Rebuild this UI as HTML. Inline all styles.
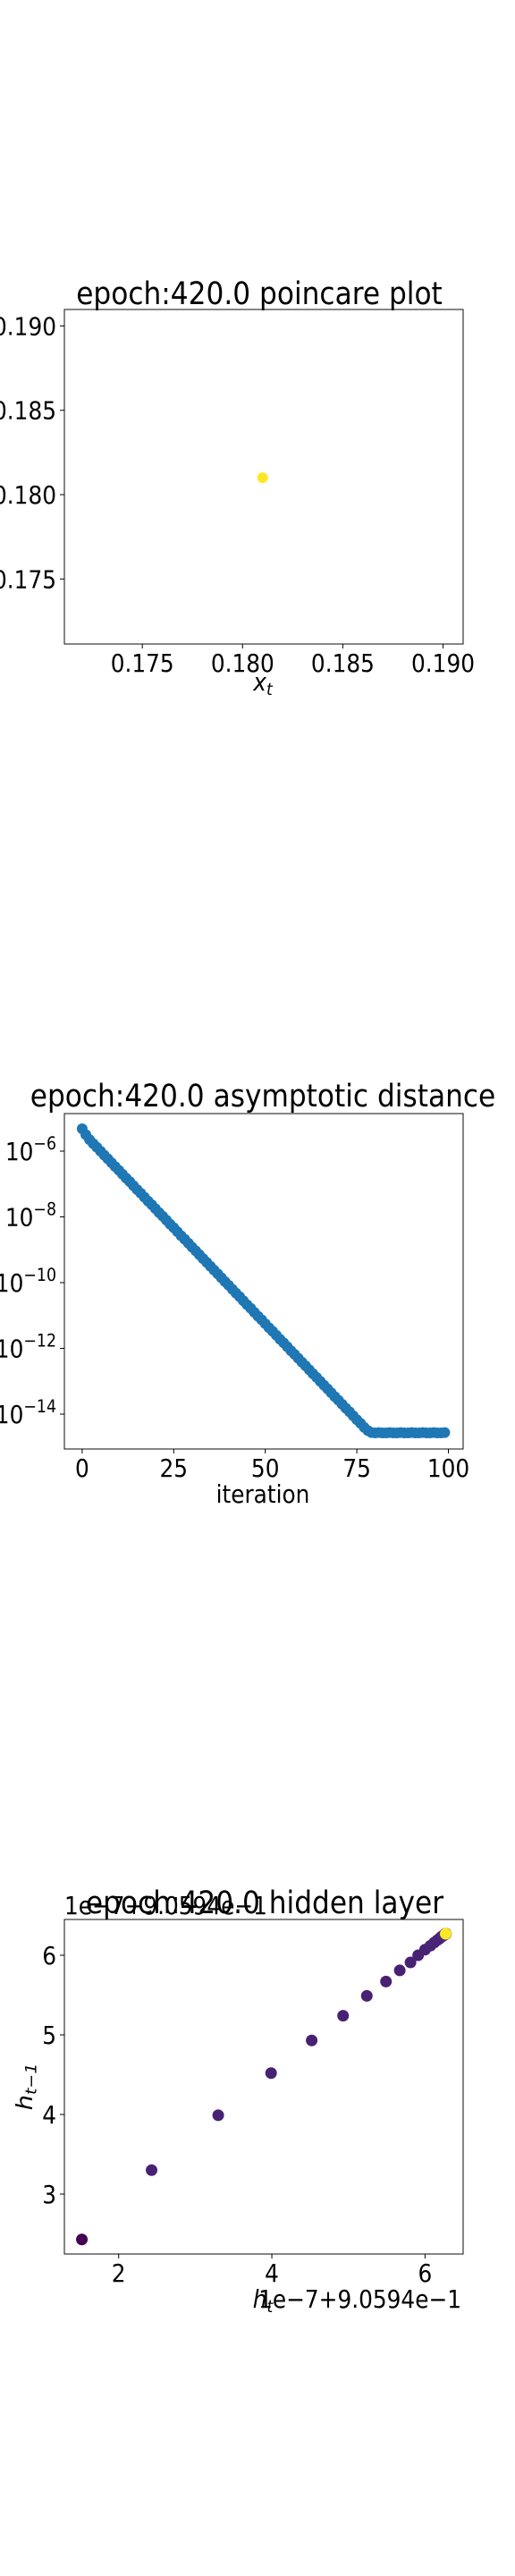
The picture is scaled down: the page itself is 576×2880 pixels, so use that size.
<!DOCTYPE html>
<html><head><meta charset="utf-8"><style>
html,body{margin:0;padding:0;background:#fff;}
svg{display:block;font-family:"DejaVu Sans","Liberation Sans",sans-serif;}
</style></head><body>
<svg id="fig" width="576" height="2880" viewBox="0 0 576 2880" xmlns="http://www.w3.org/2000/svg">
<rect width="576" height="2880" fill="#fff"/>
<g id="c1"></g>
<g id="c2"></g>
<g id="c3"></g>
</svg>
<script>
// ---- chart 1 data ----
const c1Xticks = [0.175, 0.180, 0.185, 0.190];
const c1Yticks = [0.175, 0.180, 0.185, 0.190];
const c1TickLabels = ["0.175", "0.180", "0.185", "0.190"];
const c1PointX = [0.181];
const c1PointY = [0.181];
// ---- chart 2 data ----
const c2Xticks = [0, 25, 50, 75, 100];
const c2Yexps = [-6, -8, -10, -12, -14];
const c2LogValues = [
-5.32,-5.50,-5.65,-5.77,-5.88,-6.00,-6.12,-6.23,-6.35,-6.47,
-6.58,-6.70,-6.82,-6.93,-7.05,-7.17,-7.28,-7.40,-7.52,-7.63,
-7.75,-7.87,-7.98,-8.10,-8.22,-8.33,-8.45,-8.57,-8.68,-8.80,
-8.92,-9.03,-9.15,-9.27,-9.38,-9.50,-9.62,-9.73,-9.85,-9.97,
-10.08,-10.20,-10.32,-10.43,-10.55,-10.67,-10.78,-10.90,-11.02,-11.13,
-11.25,-11.37,-11.48,-11.60,-11.72,-11.83,-11.95,-12.07,-12.18,-12.30,
-12.42,-12.53,-12.65,-12.77,-12.88,-13.00,-13.12,-13.23,-13.35,-13.47,
-13.58,-13.70,-13.82,-13.93,-14.05,-14.17,-14.28,-14.40,-14.50,-14.56,
-14.57,-14.56,-14.57,-14.57,-14.56,-14.57,-14.57,-14.56,-14.57,-14.57,
-14.56,-14.57,-14.57,-14.56,-14.57,-14.57,-14.56,-14.57,-14.57,-14.56];
// ---- chart 3 data ----
const c3Ticks = [2, 4, 6];
const c3YTicks = [3, 4, 5, 6];
const c3H = [1.52,2.43,3.30,3.99,4.52,4.93,5.24,5.49,5.67,5.81,5.91,6.00,6.07,6.12,6.16,6.19,6.21,6.23,6.24,6.25,
6.255,6.26,6.262,6.264,6.266,6.267,6.268,6.269,6.27,6.27,6.27,6.27,6.27,6.27,6.27,6.27,6.27,6.27,6.27,6.27,
6.27,6.27,6.27,6.27,6.27,6.27,6.27,6.27,6.27,6.27,6.27,6.27,6.27,6.27,6.27,6.27,6.27,6.27,6.27,6.27,
6.27,6.27,6.27,6.27,6.27,6.27,6.27,6.27,6.27,6.27,6.27,6.27,6.27,6.27,6.27,6.27,6.27,6.27,6.27,6.27,
6.27,6.27,6.27,6.27,6.27,6.27,6.27,6.27,6.27,6.27,6.27,6.27,6.27,6.27,6.27,6.27,6.27,6.27,6.27,6.27,6.27];

const NS = "http://www.w3.org/2000/svg";
const SX = 0.905;
const TICK_FS = 27.4, TITLE_FS = 34.5, SUP_FS = 19.2;
function mk(parent, tag, attrs, txt){
  const e = document.createElementNS(NS, tag);
  for (const k in attrs) e.setAttribute(k, attrs[k]);
  if (txt !== undefined) e.textContent = txt;
  parent.appendChild(e);
  return e;
}
function txt(g, x, y, fs, anchor, s, extra){
  const a = {x:0,y:0,'font-size':fs,'text-anchor':anchor,transform:'translate('+x+','+y+') scale('+SX+',1)'};
  if (extra) for (const k in extra) a[k]=extra[k];
  return mk(g,'text',a,s);
}
function lin(d0,d1,r0,r1){return v => r0 + (v-d0)*(r1-r0)/(d1-d0);}
function frame(g, x0,y0,x1,y1){
  const r = mk(g,'rect',{x:x0,y:y0,width:x1-x0,height:y1-y0,fill:'none',stroke:'#222','stroke-width':1.1});
  
  
}
function xtick(g,x,y,label){
  const l = mk(g,'line',{x1:x,x2:x,y1:y,y2:y+5,stroke:'#000'});
  
  
  const t = txt(g,x,y+31,TICK_FS,'middle',label);
  
  
}
function ytick(g,x,y,label){
  const l = mk(g,'line',{x1:x-5,x2:x,y1:y,y2:y,stroke:'#000'});
  
  
  const t = txt(g,x-9,y+10,TICK_FS,'end',label);
  
  
  return t;
}
function title(g,x,y,s){
  const t = txt(g,x,y,TITLE_FS,'middle',s);
  
  
}
const L=72, R=518;

// chart 1
(function(){
  const g = document.getElementById('c1');
  const T=346,B=720;
  const sx = lin(0.180,0.185,271.3,383.4);
  const sy = lin(0.180,0.185,553,458.7);
  frame(g,L,T,R,B);
  c1Xticks.forEach((v,i)=>xtick(g,sx(v),B,c1TickLabels[i]));
  c1Yticks.forEach((v,i)=>ytick(g,L,sy(v),c1TickLabels[i]));
  c1PointX.forEach((v,i)=>{
    const c = mk(g,'circle',{cx:sx(v),cy:sy(c1PointY[i]),r:6,fill:'#fde725'});
    
    
  });
  title(g,290,340,'epoch:420.0 poincare plot');
  const xl = txt(g,294,772,TICK_FS,'middle','',{'font-style':'italic'});
  
  
  xl.innerHTML = 'x<tspan font-size="19" dy="5">t</tspan>';
})();

// chart 2
(function(){
  const g = document.getElementById('c2');
  const T=1245,B=1620;
  const sx = lin(0,100,91.9,501.5);
  const sy = lin(-6,-14,1287,1581);
  frame(g,L,T,R,B);
  c2Xticks.forEach(v=>xtick(g,sx(v),B,String(v)));
  c2Yexps.forEach(e=>{
    const t = ytick(g,L,sy(e),'');
    t.innerHTML = '10<tspan font-size="'+SUP_FS+'" dy="-12">\u2212'+(-e)+'</tspan>';
  });
  c2LogValues.forEach((v,i)=>{
    const c = mk(g,'circle',{cx:sx(i),cy:sy(v),r:6,fill:'#1f77b4'});
    
    
  });
  title(g,294,1237,'epoch:420.0 asymptotic distance');
  const xl = txt(g,294,1680,TICK_FS,'middle','iteration');
  
  
})();

// chart 3
(function(){
  const g = document.getElementById('c3');
  const T=2146,B=2520;
  const sx = lin(2,6,132.7,475.4);
  const sy = lin(6,3,2186,2453);
  frame(g,L,T,R,B);
  c3Ticks.forEach(v=>xtick(g,sx(v),B,String(v)));
  c3YTicks.forEach(v=>ytick(g,L,sy(v),String(v)));
  const vir = ['#440154','#482173','#482576','#46327e','#3e4989','#fde725'];
  const n = c3H.length-1;
  for(let i=0;i<n;i++){
    let col;
    if(i===0) col=vir[0];
    else if(i===n-1) col=vir[5];
    else if(i<12) col=vir[1];
    else if(i<20) col=vir[2];
    else col=vir[3];
    const c = mk(g,'circle',{cx:sx(c3H[i]),cy:sy(c3H[i+1]),r:6.5,fill:col});
    
    
  }
  const off = txt(g,L,2140,TICK_FS,'start','1e\u22127+9.0594e\u22121');
  
  
  title(g,296,2139,'epoch:420.0 hidden layer');
  const xl = txt(g,294,2580,TICK_FS,'middle','',{'font-style':'italic'});
  
  
  xl.innerHTML = 'h<tspan font-size="19" dy="5">t</tspan>';
  const xo = txt(g,R-2,2580,TICK_FS,'end','1e\u22127+9.0594e\u22121');
  
  
  const yl = mk(g,'text',{x:0,y:0,'font-size':TICK_FS,'text-anchor':'middle','font-style':'italic',transform:'translate(36,2333) rotate(-90) scale(1,'+SX+')'});
  
  
  yl.innerHTML = 'h<tspan font-size="19" dy="5">t\u22121</tspan>';
})();
</script>
</body></html>
